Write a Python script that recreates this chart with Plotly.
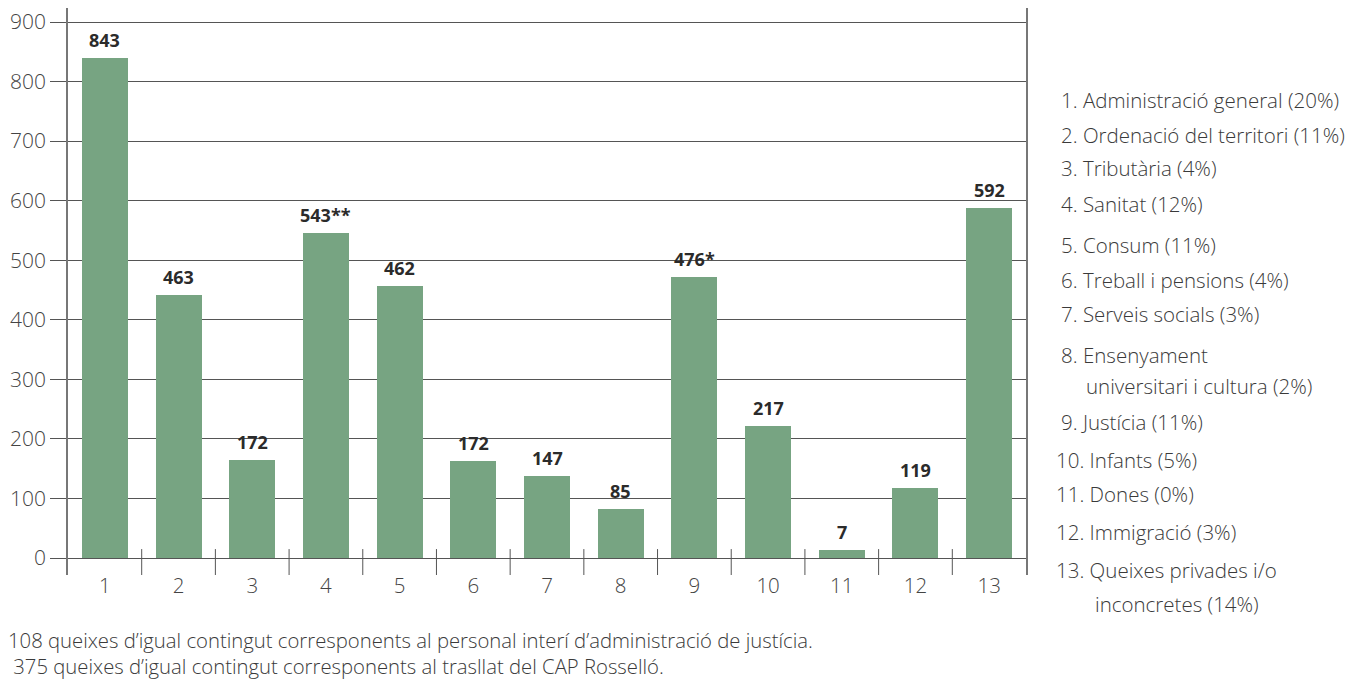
import plotly.graph_objects as go

# ---- data ----
categories = [str(i) for i in range(1, 14)]
bar_values = [840, 442, 165, 545, 456, 163, 138, 83, 472, 222, 14, 118, 588]
bar_labels = ["843", "463", "172", "543**", "462", "172", "147", "85", "476*", "217", "7", "119", "592"]
y_ticks = [0, 100, 200, 300, 400, 500, 600, 700, 800, 900]
legend_lines = [
    "1. Administració general (20%)",
    "2. Ordenació del territori (11%)",
    "3. Tributària (4%)",
    "4. Sanitat (12%)",
    "5. Consum (11%)",
    "6. Treball i pensions (4%)",
    "7. Serveis socials (3%)",
    "8. Ensenyament",
    "universitari i cultura (2%)",
    "9. Justícia (11%)",
    "10. Infants (5%)",
    "11. Dones (0%)",
    "12. Immigració (3%)",
    "13. Queixes privades i/o",
    "inconcretes (14%)",
]
footnotes = [
    "108 queixes d’igual contingut corresponents al personal interí d’administració de justícia.",
    " 375 queixes d’igual contingut corresponents al trasllat del CAP Rosselló.",
]

OFF = 8  # page body margin
W, H = 1361 - OFF, 688 - OFF
# plot area in page pixels: x 68..1026, y 8..575
L, T = 68 - OFF, 8 - OFF
R = W - (1026 - OFF)
B = H - (575 - OFF)
PW, PH = W - L - R, H - T - B

def px_x(px):
    return (px - OFF - L) / PW

def px_y(py):
    return (H - B - (py - OFF)) / PH

FONT = "Open Sans"
GREEN = "#77a482"
LINE = "#555555"

xs = list(range(1, 14))
fig = go.Figure()
fig.add_trace(go.Bar(
    x=xs, y=bar_values, width=0.625,
    marker=dict(color=GREEN, line=dict(width=0)),
    hoverinfo="skip",
))

annotations = []
for x, v, lab in zip(xs, bar_values, bar_labels):
    annotations.append(dict(
        x=x, y=v, xref="x", yref="y", text=f"<b>{lab}</b>", showarrow=False,
        yanchor="bottom", yshift=4,
        font=dict(family=FONT, size=18, color="#2b2b2b"),
    ))

# legend text (right side)
leg_y = [100, 135, 168, 204, 245, 280, 314, 355, 386, 422, 460, 494, 532, 570, 604]
leg_x = [1059, 1059, 1059, 1059, 1059, 1059, 1059, 1059, 1084, 1059, 1054, 1054, 1054, 1054, 1093]
for t, yy, xx in zip(legend_lines, leg_y, leg_x):
    annotations.append(dict(
        x=px_x(xx), y=px_y(yy), xref="paper", yref="paper", text=t,
        showarrow=False, xanchor="left", yanchor="middle",
        font=dict(family=FONT, size=20.5, color="#3a3a3a", weight=300),
    ))

for t, yy, xx in zip(footnotes, [640, 666], [6, 6]):
    annotations.append(dict(
        x=px_x(xx), y=px_y(yy), xref="paper", yref="paper", text=t,
        showarrow=False, xanchor="left", yanchor="middle",
        font=dict(family=FONT, size=20.3, color="#3a3a3a", weight=300),
    ))

shapes = []
for b in range(1, 13):
    shapes.append(dict(
        type="line", xref="x", yref="y", x0=b + 0.5, x1=b + 0.5, y0=-28.5, y1=15,
        line=dict(color=LINE, width=1),
    ))

fig.update_layout(
    width=W, height=H,
    margin=dict(l=L, r=R, t=T, b=B, pad=0),
    paper_bgcolor="white", plot_bgcolor="white",
    showlegend=False,
    bargap=0,
    font=dict(family=FONT, color="#444444"),
    xaxis=dict(
        range=[0.5, 13.5], tickvals=xs, ticktext=categories,
        showgrid=False, zeroline=False, showline=False, ticks="",
        tickfont=dict(family=FONT, size=20.5, color="#444444", weight=300),
        ticklabelstandoff=-4,
        fixedrange=True,
    ),
    yaxis=dict(
        range=[-28.5, 923.5], tickvals=y_ticks,
        showgrid=True, gridcolor=LINE, gridwidth=1,
        zeroline=False, showline=True, mirror=True, linecolor="#777777", linewidth=1.5,
        ticks="outside", ticklen=16, tickcolor=LINE,
        tickfont=dict(family=FONT, size=21, color="#444444", weight=300),
        ticklabeloverflow="allow",
        fixedrange=True,
    ),
    annotations=annotations,
    shapes=shapes,
)

fig.write_html("out.html")
